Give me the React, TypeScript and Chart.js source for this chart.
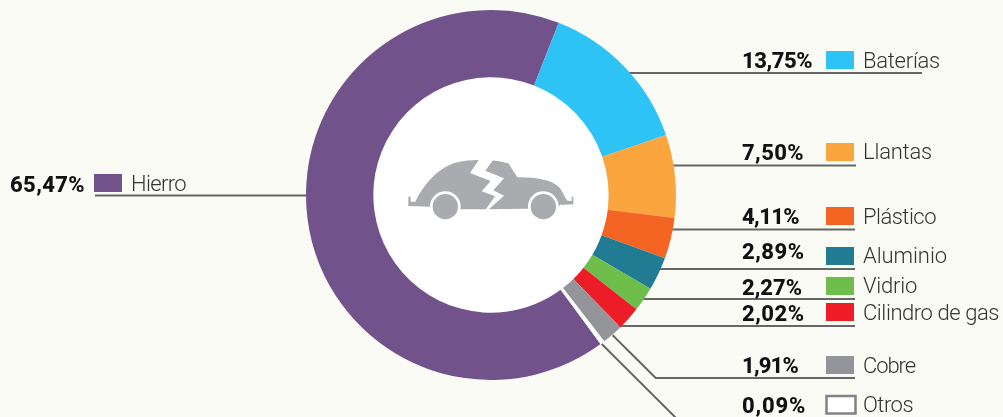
import React, { useEffect, useRef } from "react";
import { Chart, registerables } from "chart.js";

Chart.register(...registerables);

// Slice order runs clockwise from the Hierro edge.
const categories = ["Hierro", "Baterías", "Llantas", "Plástico", "Aluminio", "Vidrio", "Cilindro de gas", "Cobre", "Otros"];
// Printed percentages.
const percentLabels = ["65,47%", "13,75%", "7,50%", "4,11%", "2,89%", "2,27%", "2,02%", "1,91%", "0,09%"];
const arcShares = [66.06, 13.78, 7.25, 3.56, 2.92, 2.14, 2.06, 1.86, 0.39];
const sliceColors = ["#72528A", "#2DC4F5", "#FBA53F", "#F46524", "#217C93", "#6DBE4A", "#EE1C27", "#939598", "#FFFFFF"];

const BG = "#FBFBF6";
const LINE = "#666666";
const ROTATION = 143.7;
const PCT_FONT = "800 22px Roboto, sans-serif";
const NAME_FONT = "300 22px Roboto, sans-serif";

// Label layout: x of %, baseline of %, % width, swatch x/y, x, baseline and width of name
const labelLayout = [
  { px: 10, py: 191.5, pw: 75, sx: 94, sy: 174, nx: 131, ny: 191, nw: 55 },
  { px: 742, py: 68, pw: 70, sx: 826, sy: 51, nx: 863, ny: 67.5, nw: 77 },
  { px: 742, py: 160, pw: 62, sx: 826, sy: 143, nx: 863, ny: 159, nw: 69 },
  { px: 742, py: 224, pw: 57, sx: 826, sy: 207, nx: 863, ny: 224, nw: 73 },
  { px: 742, py: 259, pw: 62.5, sx: 826, sy: 247, nx: 863, ny: 262.5, nw: 84 },
  { px: 742, py: 295, pw: 60, sx: 826, sy: 277, nx: 863, ny: 293, nw: 54 },
  { px: 742, py: 321, pw: 62.5, sx: 826, sy: 303, nx: 863, ny: 320, nw: 136 },
  { px: 742, py: 373, pw: 56, sx: 826, sy: 356, nx: 863, ny: 372.5, nw: 52 },
  { px: 742, py: 413, pw: 64, sx: 826, sy: 395, nx: 863, ny: 411.5, nw: 50 },
];

// Leader polylines
const leaders: number[][][] = [
  [[95, 195.5], [320, 195.5]],
  [[620, 73], [922, 73]],
  [[660, 165.5], [856, 165.5]],
  [[660, 229.5], [855, 229.5]],
  [[650, 269], [855, 269]],
  [[630, 299], [855, 299]],
  [[610, 326], [855, 326]],
  [[612.7, 335.3], [655.7, 378], [855, 378]],
  [[601.7, 344], [676, 418]],
];

const carBody = "M85 228 L85 200 L92 200 L92 215 L106 215 C125 175 160 125 215 102 C255 86 340 86 385 100 L412 142 C470 142 520 150 540 175 C550 188 555 205 562 212 L575 213 L575 200 L580 200 L580 222 C570 224 555 224 541 224 L530 236 L432 236 L320 238 L242 238 L150 230 Z";
const carCrack = "M298 88 L270 129 L332 153 L305 184 L345 199 L316 240 L324 240 L372 197 L340 181 L372 145 L316 122 L341 88 Z";

function fitText(ctx: any, text: string, x: number, y: number, width: number) {
  ctx.letterSpacing = "0px";
  const spacing = (width - ctx.measureText(text).width) / text.length;
  ctx.letterSpacing = spacing + "px";
  ctx.fillText(text, x, y);
  ctx.letterSpacing = "0px";
}

const decorPlugin = {
  id: "decor",
  beforeDatasetsDraw(chart: any) {
    const ctx = chart.ctx;
    const arc = chart.getDatasetMeta(0).data[0];
    ctx.save();
    ctx.strokeStyle = LINE;
    ctx.lineWidth = 2;
    for (const pts of leaders) {
      ctx.beginPath();
      pts.forEach((p, i) => (i ? ctx.lineTo(p[0], p[1]) : ctx.moveTo(p[0], p[1])));
      ctx.stroke();
    }
    ctx.fillStyle = "#FFFFFF";
    ctx.beginPath();
    ctx.arc(arc.x, arc.y, arc.innerRadius + 1, 0, Math.PI * 2);
    ctx.fill();
    ctx.restore();
  },
  afterDatasetsDraw(chart: any) {
    const ctx = chart.ctx;
    ctx.save();
    // car icon
    ctx.save();
    ctx.translate(380, 130);
    ctx.scale(1 / 3, 1 / 3);
    ctx.fillStyle = "#A9ABAE";
    ctx.fill(new Path2D(carBody));
    ctx.fillStyle = "#FFFFFF";
    ctx.beginPath();
    ctx.arc(196, 230, 46, 0, Math.PI * 2);
    ctx.arc(490, 230, 46, 0, Math.PI * 2);
    ctx.fill();
    ctx.fillStyle = "#A9ABAE";
    ctx.beginPath();
    ctx.arc(196, 230, 38, 0, Math.PI * 2);
    ctx.fill();
    ctx.beginPath();
    ctx.arc(490, 230, 38, 0, Math.PI * 2);
    ctx.fill();
    ctx.fillStyle = "#FFFFFF";
    ctx.fill(new Path2D(carCrack));
    ctx.restore();
    // labels
    ctx.textBaseline = "alphabetic";
    ctx.textAlign = "left";
    categories.forEach((name, i) => {
      const l = labelLayout[i];
      ctx.font = PCT_FONT;
      ctx.fillStyle = "#111111";
      fitText(ctx, percentLabels[i], l.px, l.py, l.pw);
      if (name === "Otros") {
        ctx.fillStyle = "#FFFFFF";
        ctx.fillRect(l.sx + 0.5, l.sy + 1, 29, 17.5);
        ctx.strokeStyle = "#808285";
        ctx.lineWidth = 2.5;
        ctx.strokeRect(l.sx + 0.5, l.sy + 1, 29, 17.5);
      } else {
        ctx.fillStyle = sliceColors[i];
        ctx.fillRect(l.sx, l.sy, 28, 18);
      }
      ctx.font = NAME_FONT;
      ctx.fillStyle = "#333333";
      fitText(ctx, name, l.nx, l.ny, l.nw);
    });
    ctx.restore();
  },
};

export default function App() {
  const ref = useRef<HTMLCanvasElement>(null);
  useEffect(() => {
    document.body.style.margin = "0";
    document.body.style.background = BG;
    const chart = new Chart(ref.current as HTMLCanvasElement, {
      type: "doughnut",
      data: {
        labels: categories,
        datasets: [{ data: arcShares, backgroundColor: sliceColors, borderWidth: 0 }],
      },
      options: {
        responsive: false,
        animation: false,
        rotation: ROTATION,
        cutout: "63.6%",
        events: [],
        layout: { padding: { left: 306, right: 327, top: 10, bottom: 37 } },
        plugins: { legend: { display: false }, tooltip: { enabled: false } },
      },
      plugins: [decorPlugin],
    } as any);
    return () => chart.destroy();
  }, []);
  return <canvas ref={ref} width={1003} height={417} style={{ display: "block", background: BG }} />;
}
